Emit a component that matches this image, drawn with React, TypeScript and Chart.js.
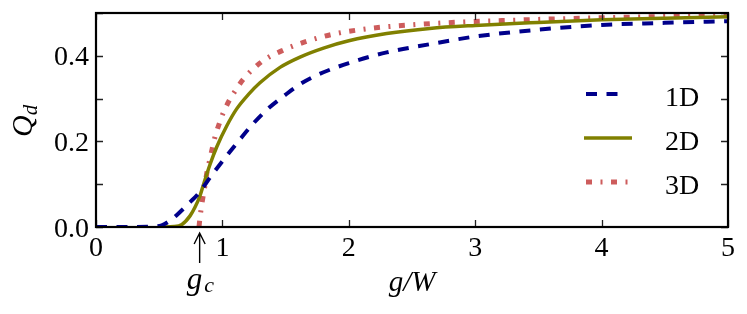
import React, { useEffect, useRef } from "react";
import { Chart, registerables } from "chart.js";

Chart.register(...registerables);

// ---- data ----
const G_1D = [0, 0.3, 0.45, 0.52, 0.6, 0.665, 0.744, 0.81, 0.915, 1.02, 1.134, 1.245, 1.363, 1.495, 1.6, 1.75, 2.0, 2.3, 2.64, 3.0, 3.5, 4.0, 4.5, 5.0];
const Q_1D = [0, 0, 0.001, 0.004, 0.018, 0.035, 0.058, 0.078, 0.121, 0.161, 0.203, 0.242, 0.277, 0.308, 0.331, 0.355, 0.383, 0.408, 0.427, 0.445, 0.461, 0.472, 0.477, 0.481];

const G_2D = [0.52, 0.62, 0.68, 0.744, 0.783, 0.823, 0.849, 0.902, 0.955, 1.034, 1.113, 1.21, 1.297, 1.456, 1.614, 1.8, 2.0, 2.3, 2.64, 3.0, 3.43, 4.0, 4.5, 5.0];
const Q_2D = [0, 0.001, 0.006, 0.026, 0.046, 0.073, 0.098, 0.146, 0.187, 0.236, 0.276, 0.311, 0.337, 0.373, 0.397, 0.418, 0.435, 0.452, 0.464, 0.471, 0.477, 0.484, 0.488, 0.491];

const G_3D = [0.815, 0.822, 0.843, 0.862, 0.876, 0.9, 0.92, 0.95, 0.976, 1.0, 1.055, 1.11, 1.165, 1.31, 1.495, 1.69, 1.9, 2.2, 2.48, 2.9, 3.28, 4.0, 5.0];
const Q_3D = [0, 0.02, 0.064, 0.097, 0.125, 0.157, 0.184, 0.22, 0.242, 0.262, 0.296, 0.322, 0.345, 0.386, 0.415, 0.436, 0.452, 0.465, 0.472, 0.479, 0.483, 0.489, 0.494];

const SERIES_LABELS = ["1D", "2D", "3D"];
const Y_LABELED = ["0.0", "0.2", "0.4"];
const G_C = 0.82;

const COLORS = ["#00008B", "#808000", "#CD5C5C"];
const WIDTHS = [4, 3.5, 5];
const DASHES = [[11, 9.5], [], [6, 8.5, 2, 8.5]];

const FONT = '"Liberation Serif", "Times New Roman", serif';

const toPts = (g: number[], q: number[]) => g.map((x, i) => ({ x, y: q[i] }));

const decorPlugin = {
  id: "decor",
  afterDraw(chart: any) {
    const { ctx, chartArea: a, scales } = chart;
    const xs = scales.x;
    const ys = scales.y;
    ctx.save();

    // inward ticks on all four sides
    ctx.strokeStyle = "#222";
    ctx.lineWidth = 1.3;
    ctx.setLineDash([]);
    const tl = 7;
    xs.ticks.forEach((t: any) => {
      const px = Math.round(xs.getPixelForValue(t.value)) + 0.5;
      ctx.beginPath();
      ctx.moveTo(px, a.bottom);
      ctx.lineTo(px, a.bottom - tl);
      ctx.moveTo(px, a.top);
      ctx.lineTo(px, a.top + tl);
      ctx.stroke();
    });
    ys.ticks.forEach((t: any) => {
      const py = Math.round(ys.getPixelForValue(t.value)) + 0.5;
      ctx.beginPath();
      ctx.moveTo(a.left, py);
      ctx.lineTo(a.left + tl, py);
      ctx.moveTo(a.right, py);
      ctx.lineTo(a.right - tl, py);
      ctx.stroke();
    });

    // frame
    ctx.strokeStyle = "#000";
    ctx.lineWidth = 2.2;
    ctx.strokeRect(a.left, a.top, a.right - a.left, a.bottom - a.top);

    // tick labels
    ctx.fillStyle = "#000";
    ctx.font = `28px ${FONT}`;
    ctx.textBaseline = "alphabetic";
    ctx.textAlign = "center";
    xs.ticks.forEach((t: any) => {
      ctx.fillText(String(t.value), xs.getPixelForValue(t.value), 256);
    });
    ctx.textAlign = "right";
    ys.ticks.forEach((t: any) => {
      const s = Number(t.value).toFixed(1);
      if (!Y_LABELED.includes(s)) return;
      ctx.fillText(s, a.left - 7, ys.getPixelForValue(t.value) + 9.5);
    });

    // legend
    const rows = [94, 138, 182];
    const lx0 = [586, 584, 586];
    const lx1 = [620, 632, 630];
    SERIES_LABELS.forEach((lab, i) => {
      ctx.save();
      ctx.strokeStyle = COLORS[i];
      ctx.lineWidth = WIDTHS[i];
      ctx.lineCap = "butt";
      ctx.setLineDash(DASHES[i]);
      ctx.beginPath();
      ctx.moveTo(lx0[i], rows[i]);
      ctx.lineTo(lx1[i], rows[i]);
      ctx.stroke();
      ctx.restore();
      ctx.fillStyle = "#000";
      ctx.font = `28px ${FONT}`;
      ctx.textAlign = "left";
      ctx.textBaseline = "alphabetic";
      ctx.fillText(lab, 665, rows[i] + 12);
    });

    // y axis title Q_d
    ctx.save();
    ctx.translate(32, 137);
    ctx.rotate(-Math.PI / 2);
    ctx.fillStyle = "#000";
    ctx.textAlign = "left";
    ctx.textBaseline = "alphabetic";
    ctx.font = `italic 30px ${FONT}`;
    ctx.fillText("Q", 0, 0);
    const qw = ctx.measureText("Q").width;
    ctx.font = `italic 21px ${FONT}`;
    ctx.fillText("d", qw, 5);
    ctx.restore();

    // x axis title g/W
    ctx.fillStyle = "#000";
    ctx.font = `italic 29px ${FONT}`;
    ctx.textAlign = "center";
    ctx.textBaseline = "alphabetic";
    ctx.fillText("g/W", (a.left + a.right) / 2, 291);

    // g_c arrow and label
    const gx = xs.getPixelForValue(G_C);
    ctx.strokeStyle = "#000";
    ctx.lineWidth = 1.4;
    ctx.beginPath();
    ctx.moveTo(gx, 263);
    ctx.lineTo(gx, 234);
    ctx.moveTo(gx - 5.5, 244);
    ctx.lineTo(gx, 233);
    ctx.lineTo(gx + 5.5, 244);
    ctx.stroke();
    ctx.textAlign = "left";
    ctx.font = `italic 31px ${FONT}`;
    ctx.fillText("g", gx - 13, 289);
    const gw = ctx.measureText("g").width;
    ctx.font = `italic 22px ${FONT}`;
    ctx.fillText("c", gx - 13 + gw + 2, 292);

    ctx.restore();
  },
};

export default function App() {
  const ref = useRef<HTMLCanvasElement | null>(null);
  useEffect(() => {
    document.body.style.margin = "0";
    if (!ref.current) return;
    const data = [toPts(G_1D, Q_1D), toPts(G_2D, Q_2D), toPts(G_3D, Q_3D)];
    const chart = new Chart(ref.current, {
      type: "line",
      data: {
        datasets: SERIES_LABELS.map((lab, i) => ({
          label: lab,
          data: data[i],
          borderColor: COLORS[i],
          backgroundColor: COLORS[i],
          borderWidth: WIDTHS[i],
          borderDash: DASHES[i],
          borderCapStyle: "butt",
          pointRadius: 0,
          fill: false,
          cubicInterpolationMode: "monotone",
          clip: 0,
        })),
      },
      options: {
        animation: false,
        responsive: false,
        maintainAspectRatio: false,
        layout: { padding: { top: 13, right: 19, left: 0, bottom: 0 } },
        plugins: { legend: { display: false }, tooltip: { enabled: false } },
        scales: {
          x: {
            type: "linear",
            min: 0,
            max: 5,
            grid: { display: false },
            border: { display: false },
            ticks: { stepSize: 1, display: false },
            afterFit: (s: any) => {
              s.height = 87;
            },
          },
          y: {
            type: "linear",
            min: 0,
            max: 0.5,
            grid: { display: false },
            border: { display: false },
            ticks: { stepSize: 0.1, display: false },
            afterFit: (s: any) => {
              s.width = 96;
            },
          },
        },
      },
      plugins: [decorPlugin],
    } as any);
    return () => chart.destroy();
  }, []);
  return (
    <div style={{ width: 747, height: 314, background: "#fff" }}>
      <canvas ref={ref} width={747} height={314} style={{ display: "block" }} />
    </div>
  );
}
